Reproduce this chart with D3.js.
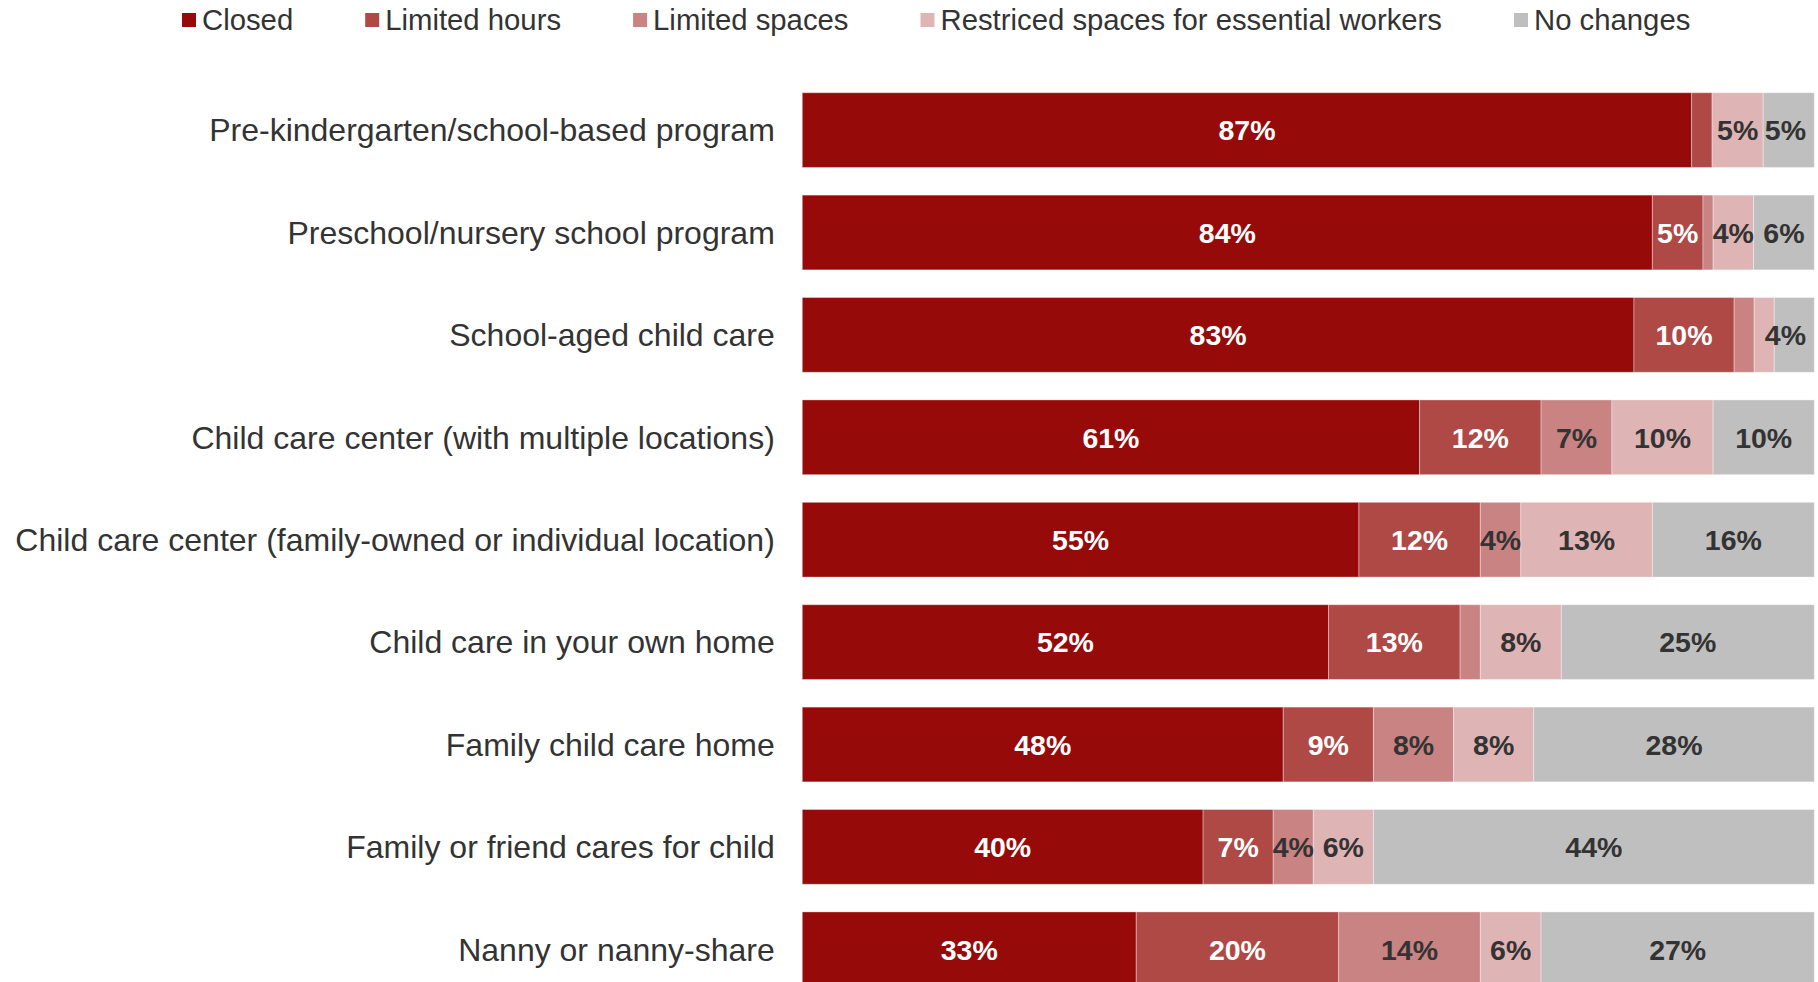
<!DOCTYPE html>
<html>
<head>
<meta charset="utf-8">
<script src="https://cdn.jsdelivr.net/npm/d3@7"></script>
<style>
  html, body { margin: 0; padding: 0; background: #fff; }
  svg { display: block; }
</style>
</head>
<body>
<svg id="chart" width="1818" height="982"></svg>
<script>
// Child care arrangement status by type (percent of respondents)
const categories = [
  "Pre-kindergarten/school-based program",
  "Preschool/nursery school program",
  "School-aged child care",
  "Child care center (with multiple locations)",
  "Child care center (family-owned or individual location)",
  "Child care in your own home",
  "Family child care home",
  "Family or friend cares for child",
  "Nanny or nanny-share"
];
const seriesNames = [
  "Closed",
  "Limited hours",
  "Limited spaces",
  "Restriced spaces for essential workers",
  "No changes"
];
const closed        = [87, 84, 83, 61, 55, 52, 48, 40, 33];
const limitedHours  = [ 2,  5, 10, 12, 12, 13,  9,  7, 20];
const limitedSpaces = [ 0,  1,  2,  7,  4,  2,  8,  4, 14];
const restricted    = [ 5,  4,  2, 10, 13,  8,  8,  6,  6];
const noChanges     = [ 5,  6,  4, 10, 16, 25, 28, 44, 27];

const seriesValues = [closed, limitedHours, limitedSpaces, restricted, noChanges];
const colors = ["#960b0a", "#ae4946", "#c98382", "#dfb4b4", "#bfbfbf"];
const labelColors = ["#ffffff", "#ffffff", "#333333", "#333333", "#333333"];

// Rows: each bar is normalised to its own total (100% stacked)
const rows = categories.map((c, i) => {
  const row = { category: c };
  seriesNames.forEach((s, k) => { row[s] = seriesValues[k][i]; });
  const total = d3.sum(seriesNames, s => row[s]);
  seriesNames.forEach(s => { row[s + "__share"] = row[s] / total; });
  return row;
});

const stack = d3.stack()
  .keys(seriesNames.map(s => s + "__share"));
const stacked = stack(rows);

const svg = d3.select("#chart");
const barLeft = 802.3, barRight = 1814.3;
const labelLimit = 1806; // value labels are kept inside this right edge

const x = d3.scaleLinear().domain([0, 1]).range([barLeft, barRight]);
const y = d3.scaleBand()
  .domain(categories)
  .range([78.9, 1000.5])
  .paddingInner(0.27)
  .paddingOuter(0.135);

const fontFamily = "'Liberation Sans', Arial, Helvetica, sans-serif";

// Stacked segments
const layers = svg.append("g")
  .selectAll("g")
  .data(stacked)
  .join("g")
  .attr("fill", (d, k) => colors[k]);

layers.selectAll("rect")
  .data(d => d)
  .join("rect")
  .attr("x", d => x(d[0]))
  .attr("y", d => y(d.data.category))
  .attr("width", d => Math.max(0, x(d[1]) - x(d[0])))
  .attr("height", y.bandwidth())
  .attr("stroke", "rgba(255,255,255,0.35)")
  .attr("stroke-width", 1);

// Value labels inside segments
stacked.forEach((layer, k) => {
  const key = seriesNames[k];
  svg.append("g")
    .selectAll("text")
    .data(layer.filter(d => d.data[key] >= 3))
    .join("text")
    .attr("x", d => (x(d[0]) + x(d[1])) / 2)
    .attr("y", d => y(d.data.category) + y.bandwidth() / 2)
    .attr("dy", "0.36em")
    .attr("text-anchor", "middle")
    .attr("font-family", fontFamily)
    .attr("font-weight", "bold")
    .attr("font-size", 28.5)
    .attr("fill", labelColors[k])
    .text(d => d.data[key] + "%")
    .each(function() {
      const t = d3.select(this);
      const w = this.getComputedTextLength();
      const cx = +t.attr("x");
      if (cx + w / 2 > labelLimit) t.attr("x", labelLimit - w / 2);
    });
});

// Category axis on the left
const yAxis = d3.axisLeft(y).tickSize(0).tickPadding(27.5);
const axisG = svg.append("g")
  .attr("transform", `translate(${barLeft},0)`)
  .call(yAxis);
axisG.select(".domain").remove();
axisG.selectAll("text")
  .attr("font-family", fontFamily)
  .attr("font-size", 32)
  .attr("fill", "#333333")
  .attr("dy", "0.35em");

// Legend
const legend = svg.append("g").attr("transform", "translate(182,20)");
let lx = 0;
seriesNames.forEach((name, k) => {
  const g = legend.append("g").attr("transform", `translate(${lx},0)`);
  g.append("rect")
    .attr("x", 0).attr("y", -7)
    .attr("width", 14).attr("height", 14)
    .attr("fill", colors[k]);
  const t = g.append("text")
    .attr("x", 20).attr("y", 0)
    .attr("dy", "0.35em")
    .attr("font-family", fontFamily)
    .attr("font-size", 29.3)
    .attr("fill", "#333333")
    .text(name);
  lx += 20 + t.node().getComputedTextLength() + 72;
});
</script>
</body>
</html>
